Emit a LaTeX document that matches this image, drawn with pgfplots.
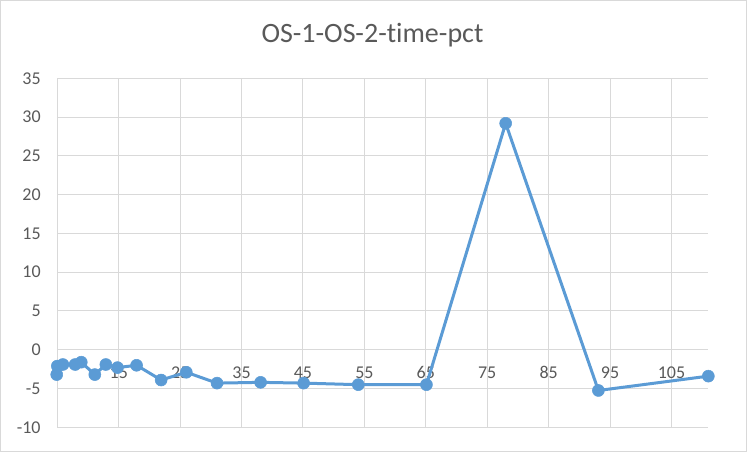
\documentclass[border=0pt]{standalone}
\usepackage{fontspec}
\setmainfont{Carlito}[Ligatures=NoCommon]
\usepackage{pgfplots}
\pgfplotsset{compat=1.18}
\definecolor{xlblue}{HTML}{5B9BD5}
\definecolor{xlgrid}{HTML}{D9D9D9}
\definecolor{xltext}{HTML}{595959}

\begin{document}
\begin{tikzpicture}
  % outer chart border; 1 px of the reference = 0.75pt
  \draw[xlgrid,line width=0.75pt] (0.375pt,0.375pt) rectangle (559.875pt,338.625pt);
  \node[xltext,font=\fontsize{21}{24}\selectfont] at (279.4pt,313pt) {OS-1-OS-2-time-pct};
  \begin{axis}[
      at={(43pt,18.5pt)}, anchor=south west,
      scale only axis,
      width=488.25pt, height=261.75pt,
      xmin=5, xmax=111,
      ymin=-10, ymax=35,
      xtick={5,15,...,105},
      ytick={-10,-5,...,35},
      axis x line=middle,
      axis y line=left,
      axis line style={xlgrid,line width=0.75pt,-},
      grid=major,
      major grid style={xlgrid,line width=0.75pt},
      major tick length=0pt,
      tick label style={xltext,font=\fontsize{13.5}{16}\selectfont},
      /pgf/number format/assume math mode=true,
      xticklabel style={yshift=-9pt},
      yticklabel style={xshift=-9pt},
      clip=false,
    ]
    \addplot[xlblue,line width=2.25pt,line join=round,mark=*,
      mark size=4.5pt,mark options={solid,fill=xlblue,draw=xlblue,line width=0.4pt}]
      coordinates {
        (4.9,-3.2)
        (5.0,-2.1)
        (5.9,-1.9)
        (7.9,-1.9)
        (8.9,-1.6)
        (11.1,-3.2)
        (12.9,-1.9)
        (14.8,-2.3)
        (17.9,-2.0)
        (21.9,-3.9)
        (26.0,-2.9)
        (31.0,-4.3)
        (38.1,-4.2)
        (45.1,-4.3)
        (54.0,-4.5)
        (65.1,-4.5)
        (78.0,29.2)
        (93.1,-5.25)
        (111.0,-3.4)
      };
  \end{axis}
\end{tikzpicture}
\end{document}
